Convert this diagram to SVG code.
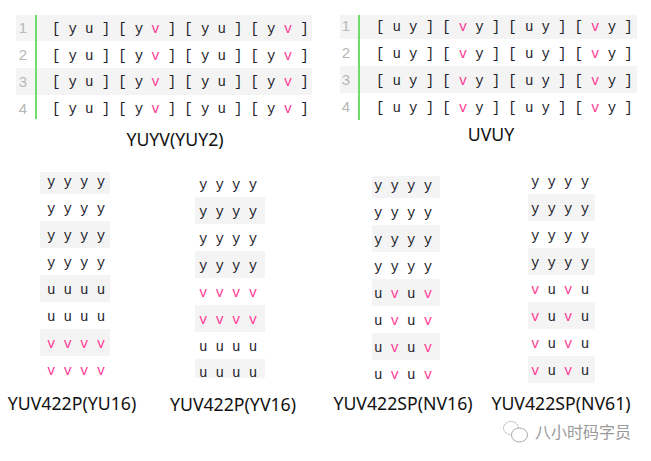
<svg xmlns="http://www.w3.org/2000/svg" width="651" height="461" viewBox="0 0 651 461">
<style>
.bg{fill:#f4f4f4}
.bar{fill:#6fdc6f}
.t{font-family:"Liberation Mono","DejaVu Sans Mono",monospace;font-size:14px;letter-spacing:-.13px;fill:#1c1c2a;white-space:pre}
.n{font-family:"Liberation Sans",sans-serif;font-size:15px;fill:#b8b8b8;text-anchor:middle}
.v{fill:#ff3d96}
.l{font-family:"Noto Sans","Open Sans",sans-serif;font-size:17.7px;fill:#111;text-anchor:middle}
.w{font-family:"Noto Sans CJK SC",sans-serif;font-size:16px;fill:#999}
.i{fill:#fff;stroke:#aaa;stroke-width:1}
</style>
<rect width="651" height="461" fill="#fff"/>
<g id="yuyv">
<rect class="bg" x="16" y="15" width="296" height="26"/><rect class="bg" x="16" y="68" width="296" height="27"/>
<rect class="bar" x="35" y="15" width="2" height="104"/>
<text class="n" x="23" y="33">1</text><text class="n" x="23" y="60">2</text><text class="n" x="23" y="87">3</text><text class="n" x="23" y="114">4</text>
<text class="t" x="52" y="33">[ y u ] [ y <tspan class="v">v</tspan> ] [ y u ] [ y <tspan class="v">v</tspan> ]</text>
<text class="t" x="52" y="60">[ y u ] [ y <tspan class="v">v</tspan> ] [ y u ] [ y <tspan class="v">v</tspan> ]</text>
<text class="t" x="52" y="86">[ y u ] [ y <tspan class="v">v</tspan> ] [ y u ] [ y <tspan class="v">v</tspan> ]</text>
<text class="t" x="52" y="113">[ y u ] [ y <tspan class="v">v</tspan> ] [ y u ] [ y <tspan class="v">v</tspan> ]</text>
<text class="l" x="175" y="146">YUYV(YUY2)</text>
</g>
<g id="uvuy">
<rect class="bg" x="340" y="15" width="297" height="24"/><rect class="bg" x="340" y="66" width="297" height="27"/>
<rect class="bar" x="358" y="15" width="2" height="105"/>
<text class="n" x="346" y="31">1</text><text class="n" x="346" y="58">2</text><text class="n" x="346" y="85">3</text><text class="n" x="346" y="112">4</text>
<text class="t" x="376" y="31">[ u y ] [ <tspan class="v">v</tspan> y ] [ u y ] [ <tspan class="v">v</tspan> y ]</text>
<text class="t" x="376" y="58">[ u y ] [ <tspan class="v">v</tspan> y ] [ u y ] [ <tspan class="v">v</tspan> y ]</text>
<text class="t" x="376" y="85">[ u y ] [ <tspan class="v">v</tspan> y ] [ u y ] [ <tspan class="v">v</tspan> y ]</text>
<text class="t" x="376" y="112">[ u y ] [ <tspan class="v">v</tspan> y ] [ u y ] [ <tspan class="v">v</tspan> y ]</text>
<text class="l" x="491" y="141">UVUY</text>
</g>
<g id="yu16">
<rect class="bg" x="40" y="172" width="70" height="22"/><rect class="bg" x="40" y="221" width="70" height="27"/><rect class="bg" x="40" y="275" width="70" height="27"/><rect class="bg" x="40" y="329" width="70" height="27"/>
<text class="t" x="47" y="186">y y y y</text><text class="t" x="47" y="213">y y y y</text><text class="t" x="47" y="240">y y y y</text><text class="t" x="47" y="267">y y y y</text>
<text class="t" x="47" y="294">u u u u</text><text class="t" x="47" y="321">u u u u</text><text class="t v" x="47" y="348">v v v v</text><text class="t v" x="47" y="375">v v v v</text>
<text class="l" x="72" y="410">YUV422P(YU16)</text>
</g>
<g id="yv16">
<rect class="bg" x="195" y="197" width="70" height="27"/><rect class="bg" x="195" y="251" width="70" height="27"/><rect class="bg" x="195" y="305" width="70" height="27"/><rect class="bg" x="195" y="359" width="70" height="19"/>
<text class="t" x="199" y="189">y y y y</text><text class="t" x="199" y="216">y y y y</text><text class="t" x="199" y="243">y y y y</text><text class="t" x="199" y="270">y y y y</text>
<text class="t v" x="199" y="297">v v v v</text><text class="t v" x="199" y="324">v v v v</text><text class="t" x="199" y="351">u u u u</text><text class="t" x="199" y="377">u u u u</text>
<text class="l" x="233" y="411">YUV422P(YV16)</text>
</g>
<g id="nv16">
<rect class="bg" x="372" y="176" width="68" height="22"/><rect class="bg" x="372" y="225" width="68" height="27"/><rect class="bg" x="372" y="279" width="68" height="27"/><rect class="bg" x="372" y="333" width="68" height="27"/>
<text class="t" x="374" y="190">y y y y</text><text class="t" x="374" y="217">y y y y</text><text class="t" x="374" y="244">y y y y</text><text class="t" x="374" y="271">y y y y</text>
<text class="t" x="374" y="298">u <tspan class="v">v</tspan> u <tspan class="v">v</tspan></text><text class="t" x="374" y="325">u <tspan class="v">v</tspan> u <tspan class="v">v</tspan></text><text class="t" x="374" y="352">u <tspan class="v">v</tspan> u <tspan class="v">v</tspan></text><text class="t" x="374" y="379">u <tspan class="v">v</tspan> u <tspan class="v">v</tspan></text>
<text class="l" x="403" y="410">YUV422SP(NV16)</text>
</g>
<g id="nv61">
<rect class="bg" x="528" y="194" width="67" height="27"/><rect class="bg" x="528" y="248" width="67" height="27"/><rect class="bg" x="528" y="302" width="67" height="27"/><rect class="bg" x="528" y="356" width="67" height="27"/>
<text class="t" x="531" y="186">y y y y</text><text class="t" x="531" y="213">y y y y</text><text class="t" x="531" y="240">y y y y</text><text class="t" x="531" y="267">y y y y</text>
<text class="t" x="531" y="294"><tspan class="v">v</tspan> u <tspan class="v">v</tspan> u</text><text class="t" x="531" y="321"><tspan class="v">v</tspan> u <tspan class="v">v</tspan> u</text><text class="t" x="531" y="348"><tspan class="v">v</tspan> u <tspan class="v">v</tspan> u</text><text class="t" x="531" y="375"><tspan class="v">v</tspan> u <tspan class="v">v</tspan> u</text>
<text class="l" x="561" y="410">YUV422SP(NV61)</text>
</g>
<g id="watermark">
<ellipse class="i" cx="511" cy="428" rx="7.5" ry="6.5" stroke-dasharray="2 1"/>
<ellipse class="i" cx="519.5" cy="435" rx="8" ry="7"/>
<text class="w" x="535" y="438">八小时码字员</text>
</g>
</svg>
